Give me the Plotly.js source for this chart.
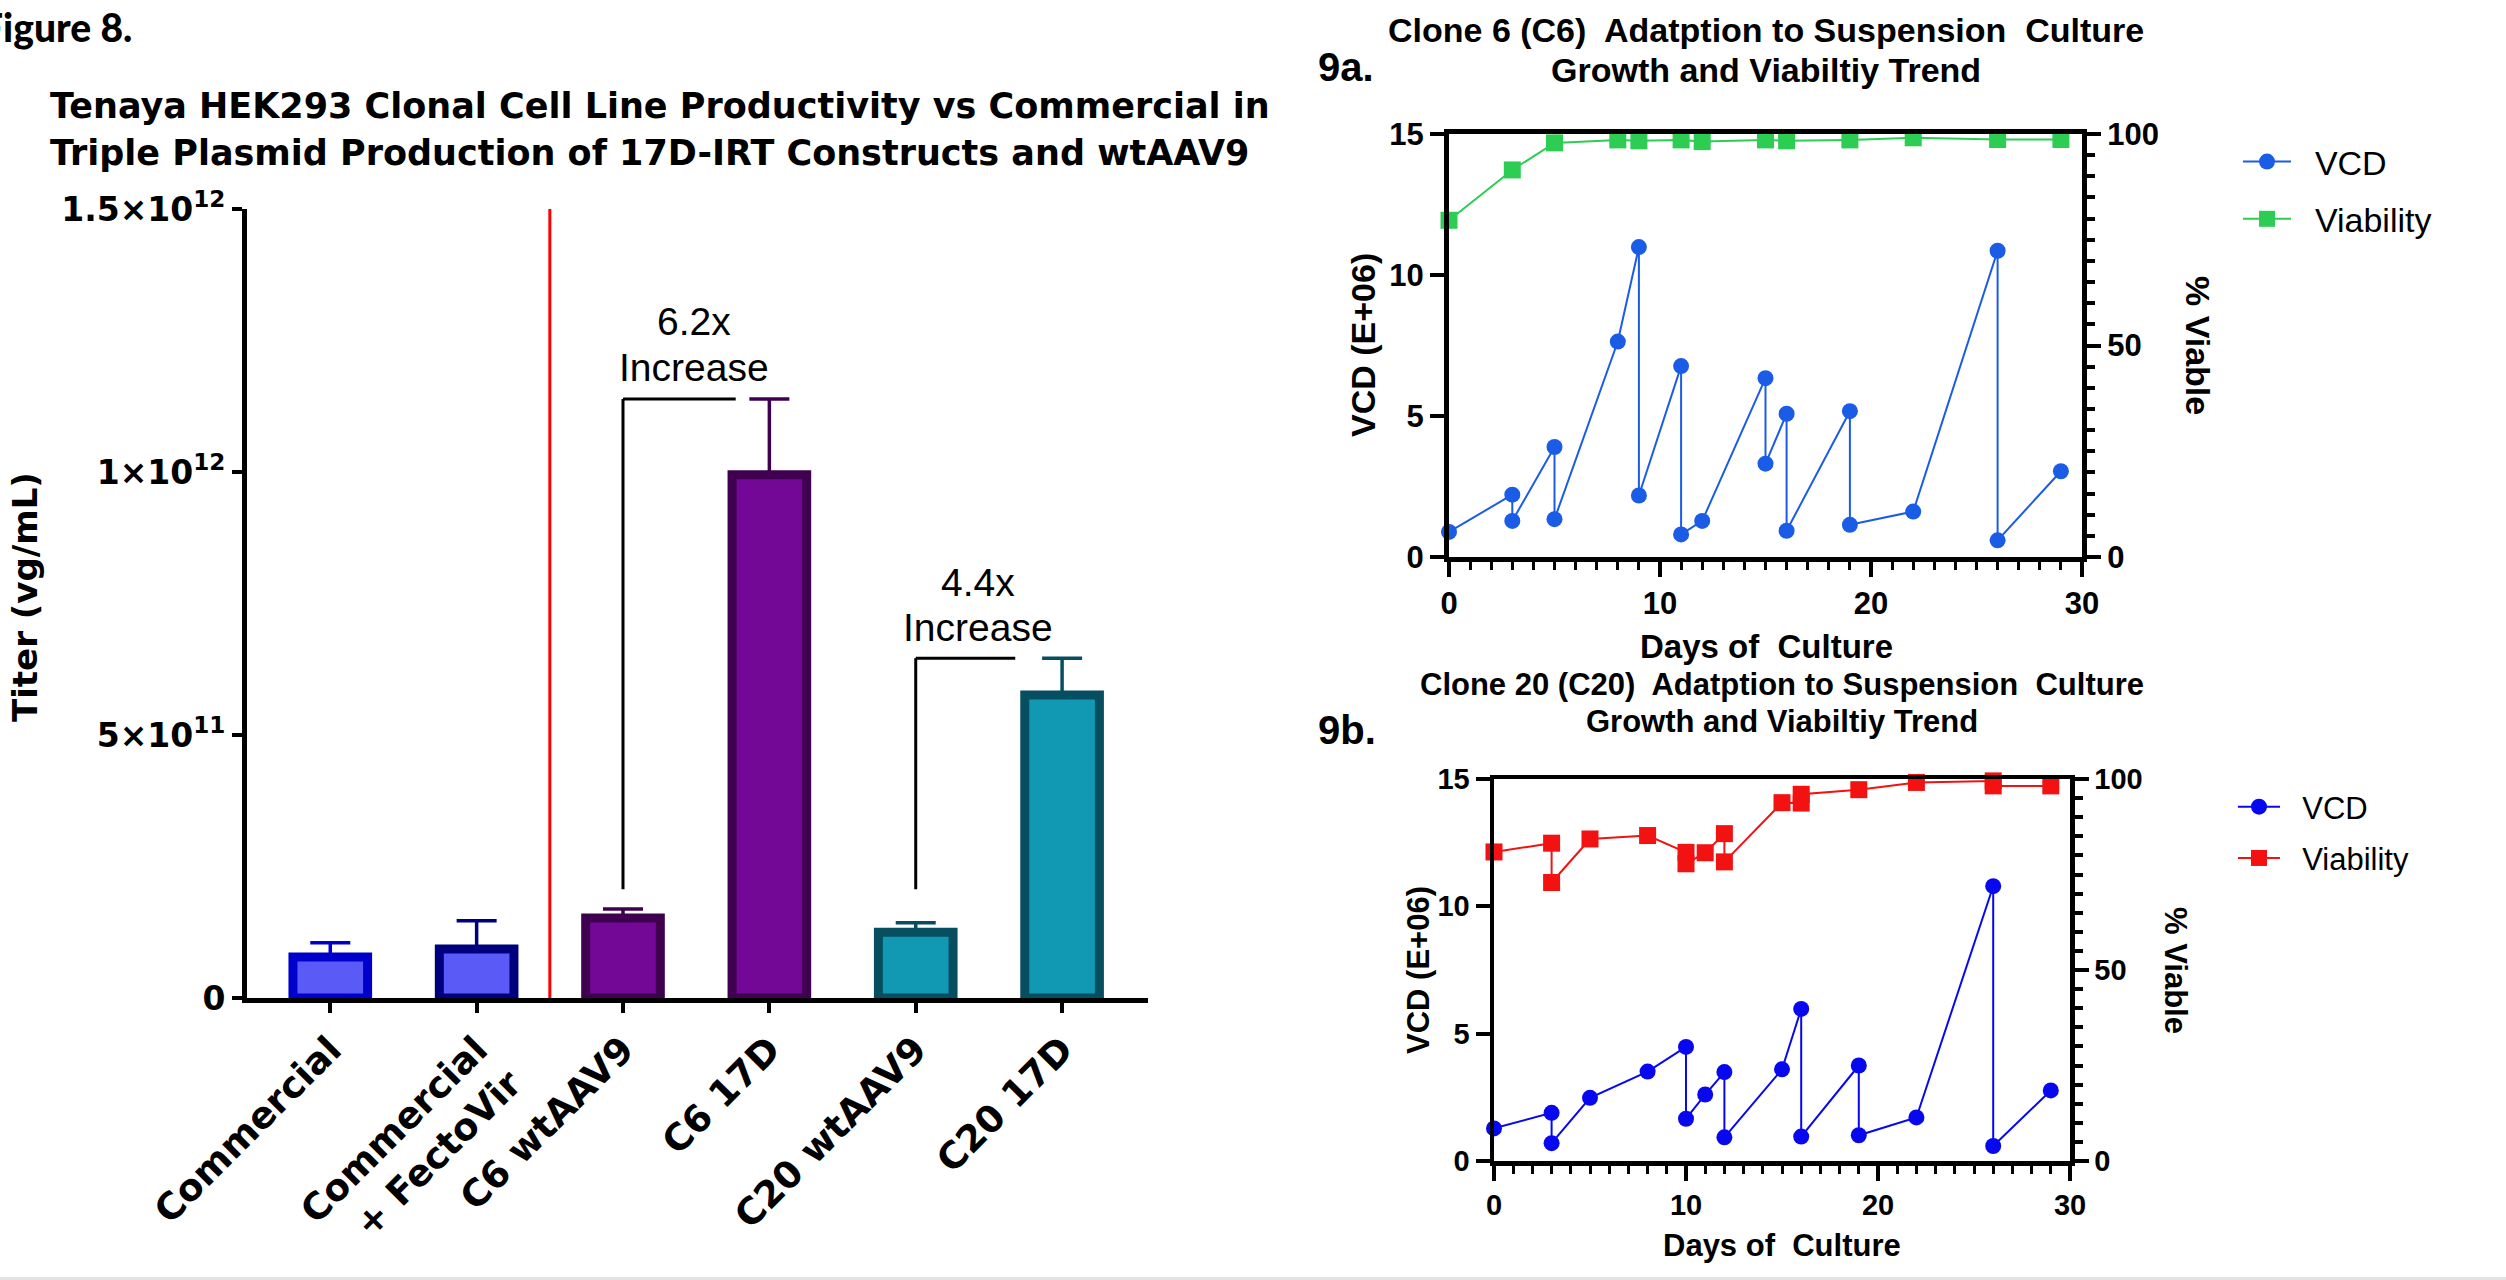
<!DOCTYPE html>
<html>
<head>
<meta charset="utf-8">
<script src="https://cdn.plot.ly/plotly-3.0.1.min.js"></script>
<style>
html,body{margin:0;padding:0;background:#ffffff;}
#chart{width:2506px;height:1280px;}
</style>
</head>
<body>
<div id="chart"></div>
<script>
// ---------- Figure 8 : titer bar chart ----------
const barCategories = ['Commercial', 'Commercial<br>+ FectoVir', 'C6 wtAAV9', 'C6 17D', 'C20 wtAAV9', 'C20 17D'];
const barTiters = [0.078e12, 0.093e12, 0.152e12, 0.995e12, 0.125e12, 0.576e12];
const barErrors = [0.027e12, 0.054e12, 0.017e12, 0.144e12, 0.018e12, 0.070e12];
const barFills = ['#5a5af7', '#5a5af7', '#730896', '#730896', '#1199b4', '#1199b4'];
const barEdges = ['#0000cd', '#00007f', '#3f004f', '#3f004f', '#064e60', '#064e60'];
const titerTickVals = [0, 5e11, 1e12, 1.5e12];
const titerTickText = ['0', '5×10<sup>11</sup>', '1×10<sup>12</sup>', '1.5×10<sup>12</sup>'];
const foldLabels = ['6.2x', '4.4x'];

// ---------- 9a : Clone 6 ----------
const c6VcdDays = [0, 3, 3, 5, 5, 8, 9, 9, 11, 11, 12, 15, 15, 16, 16, 19, 19, 22, 26, 26, 29];
const c6Vcd = [0.89, 2.21, 1.28, 3.9, 1.34, 7.64, 10.99, 2.18, 6.77, 0.80, 1.28, 6.34, 3.31, 5.08, 0.93, 5.17, 1.14, 1.61, 10.86, 0.59, 3.04];
const c6ViabDays = [0, 3, 5, 8, 9, 11, 12, 15, 16, 19, 22, 26, 29];
const c6Viab = [79.6, 91.5, 97.9, 98.6, 98.4, 98.6, 98.2, 98.6, 98.4, 98.6, 99.1, 98.7, 98.7];

// ---------- 9b : Clone 20 ----------
const c20VcdDays = [0, 3, 3, 5, 8, 10, 10, 11, 12, 12, 15, 16, 16, 19, 19, 22, 26, 26, 29];
const c20Vcd = [1.28, 1.89, 0.70, 2.48, 3.51, 4.48, 1.66, 2.61, 3.49, 0.93, 3.6, 5.97, 0.96, 3.75, 1.01, 1.71, 10.79, 0.59, 2.77];
const c20ViabDays = [0, 3, 3, 5, 8, 10, 10, 11, 12, 12, 15, 16, 16, 19, 22, 26, 26, 29];
const c20Viab = [80.9, 83.2, 72.9, 84.3, 85.2, 80.8, 77.8, 80.7, 85.7, 78.3, 93.8, 93.7, 96.0, 97.2, 99.1, 99.5, 98.2, 98.2];

const seriesNames = ['VCD', 'Viability'];

// ---------- helpers (pixel -> paper) ----------
const W = 2506, H = 1280;
const px = x => x / W;
const py = y => 1 - y / H;

const ARIAL = 'Arial, Liberation Sans, sans-serif';
const DEJAVU = 'DejaVu Sans, Verdana, sans-serif';
const GAP = '\u00a0\u00a0';

const traces = [];

// bars, one trace per bar so each keeps its own error-bar colour
barCategories.forEach((cat, i) => {
  traces.push({
    type: 'bar',
    x: [cat],
    y: [barTiters[i]],
    xaxis: 'x', yaxis: 'y',
    width: 0.51,
    marker: {color: barFills[i], line: {color: barEdges[i], width: 9}},
    error_y: {type: 'data', symmetric: false, array: [barErrors[i]], arrayminus: [0],
              color: barEdges[i], thickness: 3.5, width: 20},
    showlegend: false,
    hoverinfo: 'skip'
  });
});

// 9a
traces.push({
  type: 'scatter', mode: 'lines+markers', name: GAP + seriesNames[0],
  x: c6VcdDays, y: c6Vcd, xaxis: 'x2', yaxis: 'y2',
  line: {color: '#1b5ce6', width: 2},
  marker: {symbol: 'circle', size: 16, color: '#1b5ce6'},
  cliponaxis: false, legend: 'legend', legendgroup: 'a1'
});
traces.push({
  type: 'scatter', mode: 'lines+markers', name: GAP + seriesNames[1],
  x: c6ViabDays, y: c6Viab, xaxis: 'x2', yaxis: 'y3',
  line: {color: '#2dcc53', width: 2},
  marker: {symbol: 'square', size: 17, color: '#2dcc53'},
  cliponaxis: false, legend: 'legend', legendgroup: 'a2'
});

// 9b
traces.push({
  type: 'scatter', mode: 'lines+markers', name: GAP + seriesNames[0],
  x: c20VcdDays, y: c20Vcd, xaxis: 'x3', yaxis: 'y4',
  line: {color: '#0808f0', width: 2},
  marker: {symbol: 'circle', size: 16, color: '#0808f0'},
  cliponaxis: false, legend: 'legend2', legendgroup: 'b1'
});
traces.push({
  type: 'scatter', mode: 'lines+markers', name: GAP + seriesNames[1],
  x: c20ViabDays, y: c20Viab, xaxis: 'x3', yaxis: 'y5',
  line: {color: '#f21212', width: 2},
  marker: {symbol: 'square', size: 17, color: '#f21212'},
  cliponaxis: false, legend: 'legend2', legendgroup: 'b2'
});

const baseAxis = {
  showline: true, linecolor: '#000', showgrid: false, zeroline: false,
  ticks: 'outside', tickcolor: '#000', automargin: false, fixedrange: true
};

function timeX(domain, anchor, lw, fsize) {
  return Object.assign({}, baseAxis, {
    domain: domain, anchor: anchor, range: [0, 30], dtick: 10, tick0: 0,
    linewidth: lw, mirror: true, ticklen: 15, tickwidth: 4,
    minor: {ticks: 'outside', dtick: 1, tick0: 0, ticklen: 8, tickwidth: 3, tickcolor: '#000', showgrid: false},
    tickfont: {family: ARIAL, size: fsize, color: '#000', weight: 'bold'}
  });
}
function vcdY(domain, anchor, lw, fsize) {
  return Object.assign({}, baseAxis, {
    domain: domain, anchor: anchor, range: [0, 15], dtick: 5, tick0: 0,
    linewidth: lw, ticklen: 14, tickwidth: 4,
    tickfont: {family: ARIAL, size: fsize, color: '#000', weight: 'bold'}
  });
}
function viabY(over, anchor, lw, fsize) {
  return Object.assign({}, baseAxis, {
    overlaying: over, side: 'right', anchor: anchor, range: [0, 100], dtick: 50, tick0: 0,
    linewidth: lw, ticklen: 14, tickwidth: 4,
    minor: {ticks: 'outside', dtick: 5, tick0: 0, ticklen: 8, tickwidth: 4, tickcolor: '#000', showgrid: false},
    tickfont: {family: ARIAL, size: fsize, color: '#000', weight: 'bold'}
  });
}

function note(text, x, y, size, opts) {
  return Object.assign({
    text: text, xref: 'paper', yref: 'paper', x: px(x), y: py(y),
    xanchor: 'center', yanchor: 'middle', showarrow: false,
    font: {family: ARIAL, size: size, color: '#000', weight: 'bold'}
  }, opts || {});
}

const annotations = [
  // Figure label (its first letter falls off the left edge, as in the original)
  note('Figure 8.', -21, 27, 39, {xanchor: 'left',
       font: {family: 'Lato, Open Sans, sans-serif', size: 39, color: '#000', weight: 900}}),
  // left title
  note('Tenaya HEK293 Clonal Cell Line Productivity vs Commercial in', 48, 106, 35,
       {xanchor: 'left', font: {family: DEJAVU, size: 35, color: '#000', weight: 'bold'}}),
  note('Triple Plasmid Production of 17D-IRT Constructs and wtAAV9', 48, 153, 35,
       {xanchor: 'left', font: {family: DEJAVU, size: 35, color: '#000', weight: 'bold'}}),
  // left y title
  note('Titer (vg/mL)', 25, 597, 34, {textangle: -90, font: {family: DEJAVU, size: 34, color: '#000', weight: 'bold'}}),
  // fold-change labels
  {text: foldLabels[0], xref: 'x', yref: 'y', x: 2.484, y: 1.287e12, xanchor: 'center', yanchor: 'middle', showarrow: false,
   font: {family: ARIAL, size: 39, color: '#000'}},
  {text: 'Increase', xref: 'x', yref: 'y', x: 2.484, y: 1.198e12, xanchor: 'center', yanchor: 'middle', showarrow: false,
   font: {family: ARIAL, size: 39, color: '#000'}},
  {text: foldLabels[1], xref: 'x', yref: 'y', x: 4.424, y: 0.789e12, xanchor: 'center', yanchor: 'middle', showarrow: false,
   font: {family: ARIAL, size: 39, color: '#000'}},
  {text: 'Increase', xref: 'x', yref: 'y', x: 4.424, y: 0.705e12, xanchor: 'center', yanchor: 'middle', showarrow: false,
   font: {family: ARIAL, size: 39, color: '#000'}},

  // 9a
  note('9a.', 1346, 67, 40),
  note('Clone 6 (C6)\u00a0 Adatption to Suspension\u00a0 Culture', 1766, 30, 34),
  note('Growth and Viabiltiy Trend', 1766, 70, 34),
  note('VCD (E+06)', 1363, 345, 34, {textangle: -90}),
  note('% Viable', 2198, 345, 34, {textangle: 90}),
  note('Days of\u00a0 Culture', 1766, 646, 33),

  // 9b
  note('9b.', 1347, 730, 40),
  note('Clone 20 (C20)\u00a0 Adatption to Suspension\u00a0 Culture', 1782, 684, 31),
  note('Growth and Viabiltiy Trend', 1782, 721, 31),
  note('VCD (E+06)', 1418, 970, 31, {textangle: -90}),
  note('% Viable', 2176, 970, 31, {textangle: 90}),
  note('Days of\u00a0 Culture', 1782, 1245, 31)
];

const bracketBase = 0.2067e12;
const top1 = barTiters[3] + barErrors[3];
const top2 = barTiters[5] + barErrors[5];
const shapes = [
  {type: 'line', xref: 'x', yref: 'y', x0: 1.5, x1: 1.5, y0: 0, y1: 1.5e12, line: {color: '#ff0000', width: 3}},
  {type: 'line', xref: 'x', yref: 'y', x0: 2, x1: 2, y0: bracketBase, y1: top1, line: {color: '#000', width: 3}},
  {type: 'line', xref: 'x', yref: 'y', x0: 2, x1: 2.77, y0: top1, y1: top1, line: {color: '#000', width: 3}},
  {type: 'line', xref: 'x', yref: 'y', x0: 4, x1: 4, y0: bracketBase, y1: top2, line: {color: '#000', width: 3}},
  {type: 'line', xref: 'x', yref: 'y', x0: 4, x1: 4.68, y0: top2, y1: top2, line: {color: '#000', width: 3}},
  {type: 'line', xref: 'paper', yref: 'paper', x0: 0, x1: 1, y0: py(1278.5), y1: py(1278.5), line: {color: '#e2e2e2', width: 3}}
];

const layout = {
  width: W, height: H, autosize: false,
  margin: {l: 0, r: 0, t: 0, b: 0, pad: 0, autoexpand: false},
  paper_bgcolor: '#ffffff', plot_bgcolor: 'rgba(0,0,0,0)',
  font: {family: ARIAL, color: '#000'},
  barmode: 'overlay',
  xaxis: Object.assign({}, baseAxis, {
    domain: [px(247), px(1148)], anchor: 'y', type: 'category',
    range: [-0.569, 5.587], linewidth: 5, ticklen: 10, tickwidth: 4, tickangle: -45,
    tickfont: {family: DEJAVU, size: 37, color: '#000', weight: 'bold'}
  }),
  yaxis: Object.assign({}, baseAxis, {
    domain: [py(998), py(209)], anchor: 'x', range: [0, 1.5e12],
    tickmode: 'array', tickvals: titerTickVals, ticktext: titerTickText,
    linewidth: 5, ticklen: 10, tickwidth: 4,
    tickfont: {family: DEJAVU, size: 33, color: '#000', weight: 'bold'}
  }),
  xaxis2: timeX([px(1449), px(2082)], 'y2', 5, 31),
  yaxis2: vcdY([py(557), py(134)], 'x2', 5, 31),
  yaxis3: viabY('y2', 'x2', 5, 31),
  xaxis3: timeX([px(1494), px(2070)], 'y4', 4.5, 29),
  yaxis4: vcdY([py(1161), py(779)], 'x3', 4.5, 29),
  yaxis5: viabY('y4', 'x3', 4.5, 29),
  legend: {x: px(2238), y: py(133), xanchor: 'left', yanchor: 'top', bgcolor: 'rgba(0,0,0,0)',
           font: {family: ARIAL, size: 34, color: '#000'}, itemwidth: 48, traceorder: 'grouped', tracegroupgap: 10},
  legend2: {x: px(2233), y: py(780), xanchor: 'left', yanchor: 'top', bgcolor: 'rgba(0,0,0,0)',
           font: {family: ARIAL, size: 31, color: '#000'}, itemwidth: 42, traceorder: 'grouped', tracegroupgap: 8},
  annotations: annotations,
  shapes: shapes,
  showlegend: true
};

Plotly.newPlot('chart', traces, layout, {staticPlot: true, displayModeBar: false});
</script>
</body>
</html>
